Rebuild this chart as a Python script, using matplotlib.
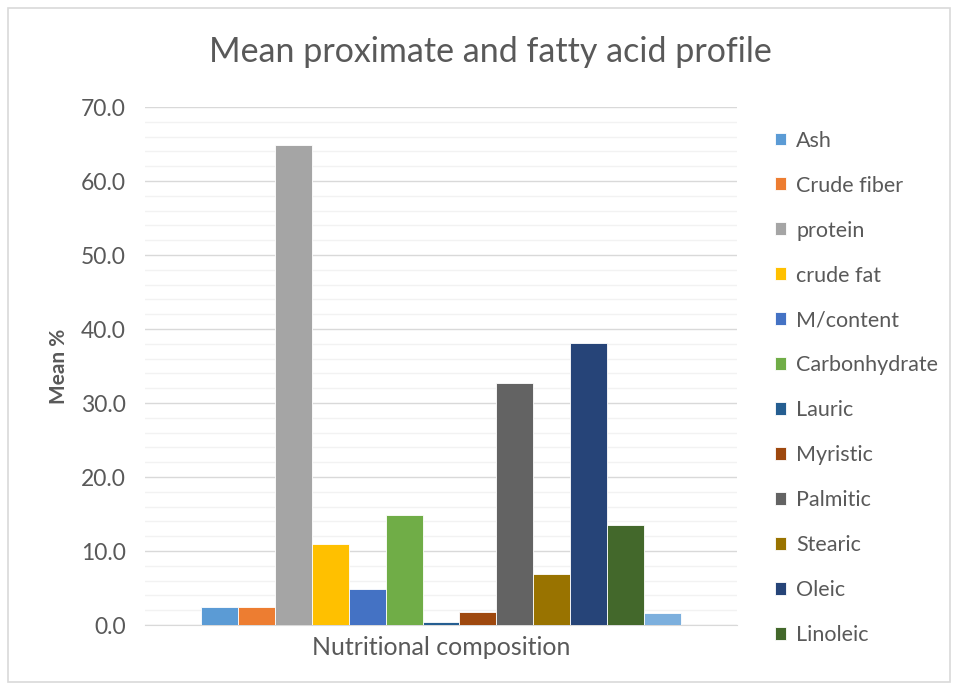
import matplotlib
matplotlib.use("Agg")
import matplotlib.pyplot as plt
from matplotlib.patches import Rectangle
from matplotlib.ticker import MultipleLocator

plt.rcParams['font.family'] = ['Lato', 'DejaVu Sans']

category = "Nutritional composition"
series = ["Ash", "Crude fiber", "protein", "crude fat", "M/content", "Carbonhydrate",
          "Lauric", "Myristic", "Palmitic", "Stearic", "Oleic", "Linoleic", "Linolenic"]
values = [2.5, 2.5, 64.8, 10.9, 4.8, 14.8, 0.4, 1.8, 32.7, 6.9, 38.1, 13.5, 1.6]
colors = ["#5B9BD5", "#ED7D31", "#A5A5A5", "#FFC000", "#4472C4", "#70AD47",
          "#255E91", "#9E480E", "#636363", "#997300", "#264478", "#43682B", "#7CAFDD"]
legend_count = 12  # the legend box only has room for the first twelve series
y_ticks = [0, 10, 20, 30, 40, 50, 60, 70]

text_color = "#595959"

fig = plt.figure(figsize=(9.58, 6.9), dpi=100)
W, H = 958, 690

# chart-area border
fig.patches.append(Rectangle((8 / W, 8 / H), 942 / W, 674 / H, transform=fig.transFigure,
                             fill=False, edgecolor="#D9D9D9", linewidth=1.2))

ax = fig.add_axes([145 / W, (H - 625) / H, (737 - 145) / W, (625 - 107) / H])

group_width = 0.81
n = len(series)
w = group_width / n
handles = []
for i, (name, v, c) in enumerate(zip(series, values, colors)):
    x = -group_width / 2 + w * (i + 0.5)
    b = ax.bar(x, v, width=w, color=c, edgecolor="white", linewidth=0.6, zorder=3)
    handles.append(b)

ax.set_xlim(-0.5, 0.5)
ax.set_ylim(0, 70)
ax.set_yticks(y_ticks)
ax.set_yticklabels([f"{t:.1f}" for t in y_ticks])
ax.yaxis.set_minor_locator(MultipleLocator(2))
ax.grid(axis="y", which="major", color="#D9D9D9", linewidth=1.0, zorder=0)
ax.grid(axis="y", which="minor", color="#F2F2F2", linewidth=1.0, zorder=0)
ax.set_xticks([0])
ax.set_xticklabels([category])
for s in ["top", "right", "left"]:
    ax.spines[s].set_visible(False)
ax.spines["bottom"].set_color("#D9D9D9")
ax.tick_params(axis="both", which="both", length=0, colors=text_color)
ax.tick_params(axis="y", labelsize=16.5, pad=14)
ax.tick_params(axis="x", labelsize=18, pad=8)
ax.set_ylabel("Mean %", color=text_color, fontsize=15, fontweight="bold", labelpad=8)

fig.text(490 / W, 1 - 52 / H, "Mean proximate and fatty acid profile", ha="center", va="center",
         fontsize=24.5, color=text_color)

leg = fig.legend(handles[:legend_count], series[:legend_count], loc="upper left",
                 bbox_to_anchor=(766 / W, 1 - 122 / H), frameon=False, fontsize=15.5,
                 handlelength=0.55, handleheight=0.55, handletextpad=0.45, labelspacing=1.16,
                 borderaxespad=0)
for t in leg.get_texts():
    t.set_color(text_color)

fig.savefig("out.png", dpi=100)
